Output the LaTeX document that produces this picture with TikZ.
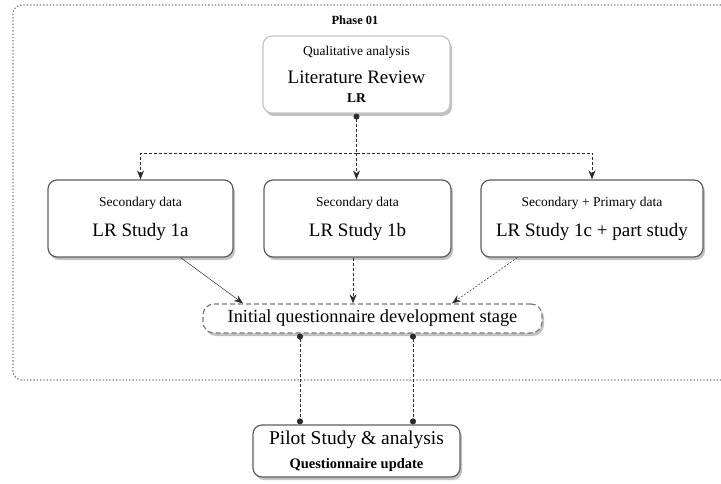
\documentclass[tikz,border=0pt]{standalone}
\usepackage{fontspec}
\setmainfont{Liberation Serif}
\usetikzlibrary{arrows.meta,shadows,calc}
\definecolor{lrline}{HTML}{C4C4C4}
\definecolor{boxline}{HTML}{5E5E5E}
\definecolor{linkink}{HTML}{2B2B2B}
\definecolor{phaseline}{HTML}{7A7A7A}
\newcommand{\txtsmall}{\fontsize{13.5}{16}\selectfont}
\newcommand{\txtbig}{\fontsize{19}{22}\selectfont}
\newcommand{\txtmid}{\fontsize{14.5}{17}\selectfont}

\begin{document}
\begin{tikzpicture}[
  x=1pt, y=-1pt,
  >={Stealth[length=9pt,width=7pt]},
  box/.style={draw=boxline, line width=1.2pt, fill=white, rounded corners=9pt,
    align=center, inner sep=2pt,
    drop shadow={shadow xshift=2pt, shadow yshift=-3pt, fill=black!40, opacity=.6}},
  topbox/.style={box, draw=lrline, minimum width=187pt, minimum height=77pt},
  study/.style={box, minimum height=77pt},
  stage/.style={box, dashed, dash pattern=on 5pt off 3pt, draw=phaseline,
    minimum width=339pt, minimum height=29pt, rounded corners=11pt},
  pilotbox/.style={box, minimum width=207pt, minimum height=52pt},
  phase/.style={draw=phaseline, line width=1.3pt, dotted, rounded corners=9pt},
  link/.style={draw=linkink, line width=0.7pt, dashed, dash pattern=on 3pt off 2pt},
  thinlink/.style={draw=linkink, line width=0.5pt},
  dotstart/.style={{Circle[length=6pt]}-},
  dotboth/.style={{Circle[length=6pt]}-{Circle[length=6pt]}}
]
\useasboundingbox (0,0) rectangle (721,484);

% phase frame, open at the right
\draw[phase] (721,5) -- (13,5) -- (13,380) -- (721,380);
\node[font=\bfseries\fontsize{12.5}{14}\selectfont] (phaselbl) at (355,20) {Phase 01};

% boxes
\node[topbox] (lr) at (356.5,74.5)
  {{\txtsmall Qualitative analysis}\\[12pt]{\txtbig Literature Review}\\[7pt]{\bfseries\txtsmall LR}};
\node[study, minimum width=185pt] (s1a) at (140.5,218.5)
  {{\txtsmall Secondary data}\\[13pt]{\txtbig LR Study 1a}};
\node[study, minimum width=187pt] (s1b) at (357.5,218.5)
  {{\txtsmall Secondary data}\\[13pt]{\txtbig LR Study 1b}};
\node[study, minimum width=222pt] (s1c) at (592,218.5)
  {{\txtsmall Secondary + Primary data}\\[13pt]{\txtbig LR Study 1c + part study}};
\node[stage] (init) at (372.5,318.5)
  {\fontsize{18.4}{20}\selectfont Initial questionnaire development stage};
\node[pilotbox] (pilot) at (356.5,451)
  {{\fontsize{19.5}{22}\selectfont Pilot Study \& analysis}\\[9pt]{\bfseries\txtmid Questionnaire update}};

% connectors
\coordinate (split) at (lr.south |- 0,153);
\draw[link, dotstart] (lr.south) -- (split);
\draw[link, ->] (split) -| (s1a.north);
\draw[link, ->] (split) -| (s1c.north);
\draw[link, ->] (split) -- (split |- s1b.north);

\draw[thinlink, ->] ([xshift=-53pt]s1a.south east) -- ([xshift=-129.5pt]init.north);
\draw[link, ->] ([xshift=-4.5pt]s1b.south) -- ([xshift=-4.5pt]s1b.south |- init.north);
\draw[link, dash pattern=on 2pt off 1.5pt, line width=0.5pt, ->] ([xshift=37pt]s1c.south west) -- ([xshift=79.5pt]init.north);

\coordinate (pl) at ([xshift=-56.5pt]pilot.north);
\coordinate (pr) at ([xshift=56.5pt]pilot.north);
\draw[link, dotboth] (pl |- init.south) -- (pl);
\draw[link, dotboth] (pr |- init.south) -- (pr);
\end{tikzpicture}
\end{document}
